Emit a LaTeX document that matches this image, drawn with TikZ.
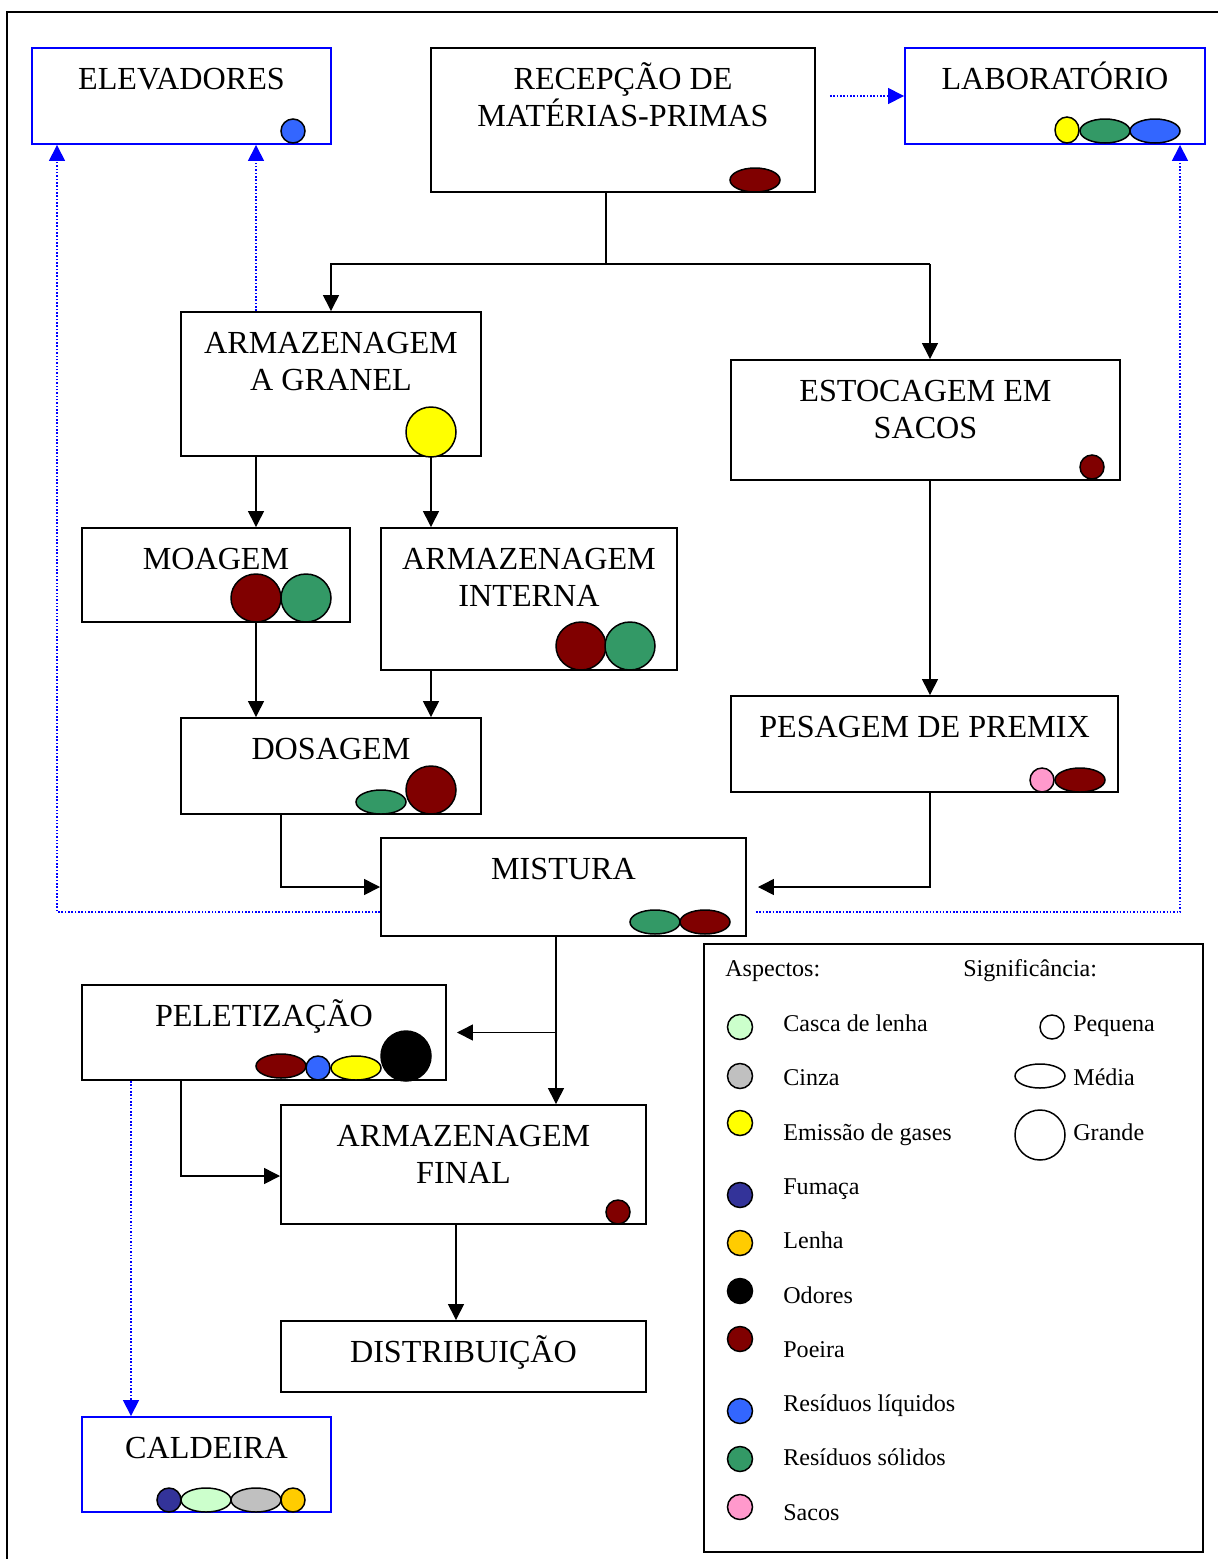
\documentclass[tikz,border=0pt]{standalone}
\usepackage{fontspec}
\setmainfont{Liberation Serif}
\usetikzlibrary{positioning,arrows.meta}
\definecolor{poe}{HTML}{800000}
\definecolor{sol}{HTML}{339966}
\definecolor{liq}{HTML}{3366FF}
\definecolor{gas}{HTML}{FFFF00}
\definecolor{fum}{HTML}{333399}
\definecolor{len}{HTML}{FFCC00}
\definecolor{cas}{HTML}{CCFFCC}
\definecolor{cin}{HTML}{C0C0C0}
\definecolor{sac}{HTML}{FF99CC}
\definecolor{odo}{HTML}{000000}
\newcommand{\StageText}[1]{\rule{0pt}{17pt}#1}
\tikzset{
  stage/.style 2 args={draw=black, line width=1.1pt, inner sep=0pt,
    minimum width=#1*0.02cm, minimum height=#2*0.02cm},
  support/.style={draw=blue},
  stagetext/.style={font=\fontsize{18.3}{21}\selectfont, align=center, inner sep=0pt},
  keytext/.style={font=\fontsize{13.7}{16}\selectfont, anchor=base west, inner sep=0pt},
  flow/.style={draw=black, line width=0.8pt, -{Triangle[length=9pt,width=9pt]}},
  link/.style={draw=blue, line width=0.9pt, densely dotted,
    -{Triangle[length=9pt,width=9pt]}},
  blob/.style={draw=black, line width=0.85pt, fill=#1}
}

\begin{document}
\begin{tikzpicture}[x=0.02cm,y=-0.02cm]
\useasboundingbox (0,0) rectangle (1218,1559);

% frame
\draw[line width=1.2pt] (7,1559) -- (7,12) -- (1218,12);

% =========================
% STAGES
% =========================
\node[stage={299}{96}, support] (ele) at (181.5,96) {};
\node[stage={384}{144}]         (rec) at (623,120) {};
\node[stage={300}{96}, support] (lab) at (1055,96) {};
\node[stage={300}{144}]         (gra) at (331,384) {};
\node[stage={389}{120}]         (est) at (925.5,420) {};
\node[stage={268}{94}]          (moa) at (216,575) {};
\node[stage={296}{142}]         (int) at (529,599) {};
\node[stage={300}{96}]          (dos) at (331,766) {};
\node[stage={387}{96}]          (pes) at (924.5,744) {};
\node[stage={365}{98}]          (mis) at (563.5,887) {};
\node[stage={364}{95}]          (pel) at (264,1032.5) {};
\node[stage={365}{119}]         (fin) at (463.5,1164.5) {};
\node[stage={365}{71}]          (dis) at (463.5,1356.5) {};
\node[stage={249}{95}, support] (cal) at (206.5,1464.5) {};

\node[stagetext, below=0.24cm of ele.north] (ele-t) {\StageText{ELEVADORES}};
\node[stagetext, below=0.24cm of rec.north] (rec-t) {\StageText{RECEPÇÃO DE}\\MATÉRIAS-PRIMAS};
\node[stagetext, below=0.24cm of lab.north] (lab-t) {\StageText{LABORATÓRIO}};
\node[stagetext, below=0.24cm of gra.north] (gra-t) {\StageText{ARMAZENAGEM}\\A GRANEL};
\node[stagetext, below=0.24cm of est.north] (est-t) {\StageText{ESTOCAGEM EM}\\SACOS};
\node[stagetext, below=0.24cm of moa.north] (moa-t) {\StageText{MOAGEM}};
\node[stagetext, below=0.24cm of int.north] (int-t) {\StageText{ARMAZENAGEM}\\INTERNA};
\node[stagetext, below=0.24cm of dos.north] (dos-t) {\StageText{DOSAGEM}};
\node[stagetext, below=0.24cm of pes.north] (pes-t) {\StageText{PESAGEM DE PREMIX}};
\node[stagetext, below=0.24cm of mis.north] (mis-t) {\StageText{MISTURA}};
\node[stagetext, below=0.24cm of pel.north] (pel-t) {\StageText{PELETIZAÇÃO}};
\node[stagetext, below=0.24cm of fin.north] (fin-t) {\StageText{ARMAZENAGEM}\\FINAL};
\node[stagetext, below=0.24cm of dis.north] (dis-t) {\StageText{DISTRIBUIÇÃO}};
\node[stagetext, below=0.24cm of cal.north] (cal-t) {\StageText{CALDEIRA}};

% =========================
% ASPECTS (discs on the stages)
% =========================
\foreach \x/\y/\xr/\yr/\clr in {
  293/131/12/12/liq,
  755/180/25/12/poe,
  1067/130/12/13/gas, 1105/131/25/12/sol, 1155/131/25/12/liq,
  431/432/25/25/gas,
  1092/467/12/12/poe,
  256/598/25/24/poe, 306/598/25/24/sol,
  581/646/25/24/poe, 630/646/25/24/sol,
  381/802/25/12/sol, 431/790/25/24/poe,
  1042/780/12/12/sac, 1080/780/25/12/poe,
  655/922/25/12/sol, 705/922/25/12/poe,
  281/1066/25/12/poe, 318/1068/12/12/liq, 356/1068/25/12/gas, 406/1056/25/25/odo,
  618/1212/12/12/poe,
  169/1500/12/12/fum, 206/1500/25/12/cas, 256/1500/25/12/cin, 293/1500/12/12/len%
}{
  \filldraw[blob=\clr] (\x,\y) ellipse [x radius=\xr, y radius=\yr];
}

% =========================
% FLOW
% =========================
\coordinate (split) at (606,264);
\coordinate (colR) at (930,264);
\coordinate (colA) at (256,0);
\coordinate (colB) at (431,0);
\coordinate (colC) at (281,0);
\coordinate (colD) at (556,1032.5);
\coordinate (colE) at (181,1176);
\coordinate (colF) at (456,0);

\draw[line width=0.8pt] (rec.south -| split) -- (split) -- (colR);
\draw[flow] (split) -| (gra.north);
\draw[flow] (colR) -- (colR |- est.north);
\draw[flow] (gra.south -| colA) -- (moa.north -| colA);
\draw[flow] (gra.south -| colB) -- (int.north -| colB);
\draw[flow] (moa.south -| colA) -- (dos.north -| colA);
\draw[flow] (int.south -| colB) -- (dos.north -| colB);
\draw[flow] (est.south -| colR) -- (pes.north -| colR);
\draw[flow] (dos.south -| colC) |- (mis.west);
\draw[flow, shorten >=0.22cm] (pes.south -| colR) |- (mis.east);
\draw[flow] (mis.south -| colD) -- (fin.north -| colD);
\draw[flow, shorten >=0.2cm] (colD) -- (pel.east);
\draw[flow] (pel.south -| colE) -- (colE) -- (fin.west |- colE);
\draw[flow] (fin.south -| colF) -- (dis.north -| colF);

% support links (dotted)
\coordinate (dl) at (57,912);
\coordinate (dr) at (1180,912);
\coordinate (dc) at (131,0);
\draw[link, shorten <=0.28cm] (rec.east |- lab.west) -- (lab.west);
\draw[link] (mis.west |- dl) -- (dl) -- (dl |- ele.south);
\draw[link] (gra.north -| colA) -- (ele.south -| colA);
\draw[link, shorten <=0.18cm] (mis.east |- dr) -- (dr) -- (dr |- lab.south);
\draw[link] (pel.south -| dc) -- (cal.north -| dc);

% =========================
% LEGEND
% =========================
\node[stage={499}{608}] (leg) at (953.5,1248) {};
\node[keytext] (asp) at (725,976) {Aspectos:};
\node[keytext] (sig) at (963,976) {Significância:};

\foreach \clr/\cy/\ty/\txt [count=\i] in {
  cas/1027/1031/Casca de lenha,
  cin/1076/1085/Cinza,
  gas/1123/1140/Emissão de gases,
  fum/1195/1194/Fumaça,
  len/1243/1248/Lenha,
  odo/1291/1303/Odores,
  poe/1339/1357/Poeira,
  liq/1411/1411/Resíduos líquidos,
  sol/1459/1465/Resíduos sólidos,
  sac/1507/1520/Sacos%
}{
  \filldraw[blob=\clr] (740,\cy) circle [radius=12.5];
  \node[keytext] (asp\i) at (783,\ty) {\txt};
}

\draw[blob=white] (1052,1027) circle [radius=12];
\draw[blob=white] (1040,1076) ellipse [x radius=25, y radius=12];
\draw[blob=white] (1040,1135) circle [radius=25];
\node[keytext] (sig1) at (1073,1031) {Pequena};
\node[keytext] (sig2) at (1073,1085) {Média};
\node[keytext] (sig3) at (1073,1140) {Grande};

\end{tikzpicture}
\end{document}
